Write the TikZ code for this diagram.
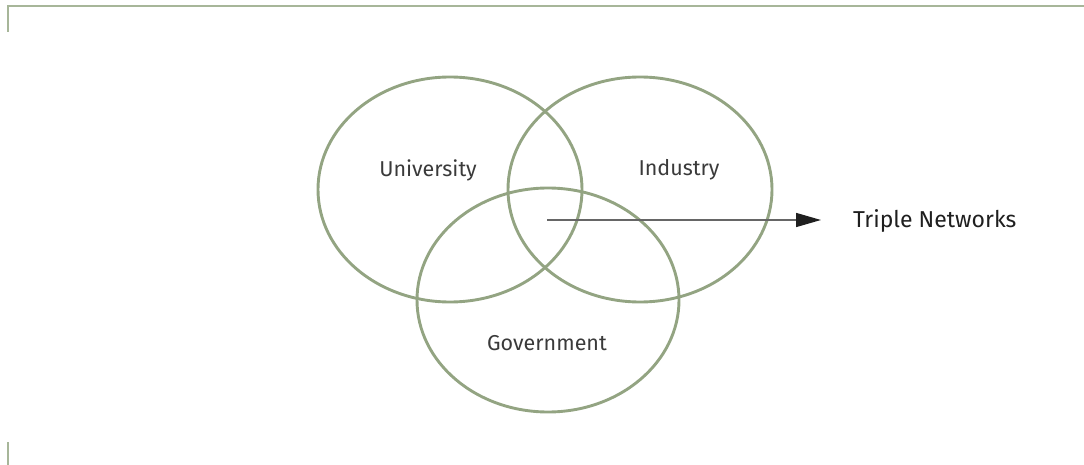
\documentclass[tikz,border=0pt]{standalone}
\usepackage{fontspec}
\setmainfont{Fira Sans}
\usetikzlibrary{arrows.meta}
\definecolor{sage}{HTML}{93A482}
\definecolor{framec}{HTML}{A7B699}
\definecolor{txt}{HTML}{3A3A3A}
\begin{document}
\begin{tikzpicture}[x=1pt,y=-1pt,
  venn/.style={draw=sage,line width=2.9pt},
  lbl/.style={font=\fontsize{21.5}{24}\selectfont, text=txt, inner sep=0pt},
  framel/.style={draw=framec,line width=2pt}]
\useasboundingbox (0,0) rectangle (1084,465);
\coordinate (tl) at (7.5,6);
\coordinate (tr) at (1084,6);
\coordinate (tld) at (7.5,32);
\coordinate (bl) at (7.5,442);
\coordinate (blb) at (7.5,465);
\draw[framel] (tld) -- (tl) -- (tr);
\draw[framel] (bl) -- (blb);
\draw[venn] (450,189.5) ellipse [x radius=132, y radius=112.5];
\draw[venn] (640,189.5) ellipse [x radius=132, y radius=112.5];
\draw[venn] (548,300) ellipse [x radius=131, y radius=112];
\node[lbl] (uni) at (428,170) {University};
\node[lbl] (ind) at (679,170) {Industry};
\node[lbl] (gov) at (547,343) {Government};
\coordinate (start) at (547,220);
\node[font=\fontsize{23}{26}\selectfont, text=black!88, anchor=west, inner sep=0pt] (tn) at (853,221) {Triple Networks};
\coordinate (tip) at (821,220);
\draw[draw=black!60, line width=1.5pt, -{Triangle[length=25pt,width=14pt,color=black!88]}] (start) -- (tip);
\end{tikzpicture}
\end{document}
